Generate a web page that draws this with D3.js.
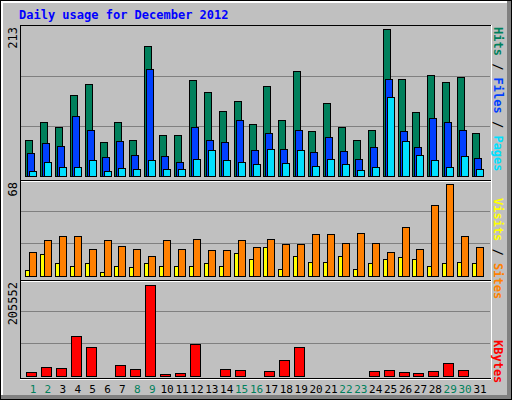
<!DOCTYPE html>
<html><head><meta charset="utf-8">
<script src="https://cdn.jsdelivr.net/npm/d3@7"></script>
<style>body{margin:0;background:#fff}text{font-family:"DejaVu Sans Mono",monospace}</style>
</head><body>
<script>
var days = d3.range(1, 32);
var weekend = [1,2,8,9,15,16,22,23,29,30];
var hits  = [51,77,70,115,130,48,77,51,185,58,58,136,119,92,106,74,128,79,149,64,104,70,51,65,209,138,91,143,133,141,61];
var files = [33,47,43,85,65,27,50,30,152,28,20,70,51,48,79,37,61,38,66,34,55,35,24,41,138,64,41,82,77,66,26];
var pages = [7,20,13,13,23,7,11,10,23,10,10,24,37,23,20,17,38,18,37,14,24,17,8,13,112,50,30,23,13,28,10];
var visits = [17,25,27.5,28,19,25,21,19,14,25,19,26,18,18,25,20,26,22,22,29,29,23,30,23,17,34,19,49,64,28,20];
var sites  = [4,15,9,7,9,3,7,6,9,7,6.7,7,9,7,16,12,20,5,14,10,10,14,5,9,12,13,12,6.7,9,10,9];
var kbytes = [9000,19700,17600,84700,61600,500,23900,15500,191700,5000,7100,68000,500,15500,13400,500,11300,34400,61600,500,500,500,500,11300,13400,9000,7100,11300,28100,13400,500];
var maxHits = 213, maxVisits = 68, maxKB = 205552;

var W = 512, H = 400;
var svg = d3.select("body").append("svg").attr("width", W).attr("height", H)
  .attr("shape-rendering", "crispEdges");

// outer frame
svg.append("rect").attr("x",0).attr("y",0).attr("width",W).attr("height",H).attr("fill","#000");
svg.append("rect").attr("x",1).attr("y",1).attr("width",W-2).attr("height",H-2).attr("fill","#808080");
svg.append("rect").attr("x",1).attr("y",1).attr("width",W-6).attr("height",H-6).attr("fill","#fff");
svg.append("rect").attr("x",3).attr("y",3).attr("width",W-8).attr("height",H-8).attr("fill","#c0c0c0");

svg.append("text").attr("x",19).attr("y",19).attr("fill","#0000ff")
  .attr("font-size",12).attr("font-weight","bold").text("Daily usage for December 2012");

var x = d3.scaleLinear().domain([1,31]).range([25,472]);

function panel(top, bottom) {
  svg.append("line").attr("x1",20).attr("x2",491).attr("y1",top).attr("y2",top).attr("stroke","#000");
  svg.append("line").attr("x1",20).attr("x2",20).attr("y1",top).attr("y2",bottom).attr("stroke","#000");
  svg.append("line").attr("x1",20).attr("x2",491).attr("y1",bottom).attr("y2",bottom).attr("stroke","#000");
  svg.append("line").attr("x1",20).attr("x2",491).attr("y1",bottom+1.5).attr("y2",bottom+1.5).attr("stroke","#fff");
  svg.append("line").attr("x1",491).attr("x2",491).attr("y1",top).attr("y2",bottom+1).attr("stroke","#fff");
}
function grid(y, max) {
  [max/3, max*2/3].forEach(function(v){
    svg.append("line").attr("x1",21).attr("x2",490).attr("y1",Math.round(y(v))+0.5).attr("y2",Math.round(y(v))+0.5)
      .attr("stroke","#808080");
  });
}
function bars(data, y, dx, w, color) {
  svg.append("g").selectAll("rect").data(data).enter().append("rect")
    .attr("x", function(d,i){ return Math.round(x(days[i]) + dx) + 0.5; })
    .attr("y", function(d){ return Math.round(y(d)) + 0.5; })
    .attr("width", w)
    .attr("height", function(d){ return Math.max(0, Math.round(y(0)) - Math.round(y(d))); })
    .attr("fill", color).attr("stroke","#000");
}
function vlabel(txt, px, py, size) {
  svg.append("text").attr("transform","translate("+px+","+py+") rotate(-90)")
    .attr("text-anchor","end").attr("font-size",size||12).attr("fill","#000").text(txt);
}
function rlabel(parts, py) {
  var t = svg.append("text").attr("transform","translate(494,"+py+") rotate(90)")
    .attr("font-size",12).attr("font-weight","bold");
  parts.forEach(function(p){ t.append("tspan").attr("fill",p[1]).text(p[0]); });
}

// top panel
var y1 = d3.scaleLinear().domain([0,maxHits]).range([176,26]);
panel(25, 180);
grid(y1, maxHits);
bars(hits, y1, 0, 7, "#00805c");
bars(files, y1, 2, 7, "#0040ff");
bars(pages, y1, 4, 7, "#00e0ff");
vlabel("213", 17, 27);
rlabel([["Hits","#00805c"],[" / ","#000"],["Files","#0040ff"],[" / ","#000"],["Pages","#00e0ff"]], 27);

// middle panel
var y2 = d3.scaleLinear().domain([0,maxVisits]).range([276,178]);
panel(180, 280);
grid(y2, maxVisits);
bars(visits, y2, 4, 7, "#ff8000");
bars(sites, y2, 0, 4, "#ffff00");
vlabel("68", 17, 182);
rlabel([["Visits","#ffff00"],[" / ","#000"],["Sites","#ff8000"]], 198);

// bottom panel
var y3 = d3.scaleLinear().domain([0,maxKB]).range([376,278]);
panel(280, 378);
grid(y3, maxKB);
bars(kbytes, y3, 1, 10, "#ff0000");
vlabel("205552", 17, 282);
rlabel([["KBytes","#ff0000"]], 340);

svg.append("g").selectAll("text").data(days).enter().append("text")
  .attr("x", function(d){ return x(d) + 8; }).attr("y", 393)
  .attr("text-anchor","middle").attr("font-size",11)
  .attr("fill", function(d){ return weekend.indexOf(d) >= 0 ? "#00805c" : "#000"; })
  .text(function(d){ return d; });
</script>
</body></html>
